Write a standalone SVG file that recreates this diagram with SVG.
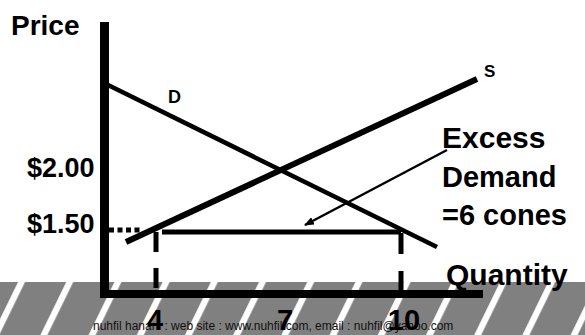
<svg xmlns="http://www.w3.org/2000/svg" width="585" height="335" viewBox="0 0 585 335">
<style>
.b{font-family:"Liberation Sans",Arial,sans-serif;font-weight:bold;fill:#000}
.ln{stroke:#000;fill:none}
</style>
<defs>
<pattern id="stripes" patternUnits="userSpaceOnUse" width="48.2" height="60" patternTransform="skewX(-26)">
<rect x="0" y="0" width="48.2" height="60" fill="#808080"/>
<rect x="11" y="0" width="7" height="60" fill="#fff"/>
</pattern>
<marker id="ah" markerWidth="10" markerHeight="8" refX="9" refY="4" orient="auto" markerUnits="userSpaceOnUse">
<path d="M0,0 L10,4 L0,8 Z" fill="#000"/>
</marker>
</defs>
<rect width="585" height="335" fill="#fff"/>
<rect id="band" x="0" y="282" width="585" height="53" fill="url(#stripes)"/>
<text x="93" y="330" font-family="Liberation Sans,Arial,sans-serif" font-size="12" fill="#111">nuhfil hanani : web site : www.nuhfil.com, email : nuhfil@yahoo.com</text>
<g id="axes">
<rect x="100" y="22" width="9" height="276" fill="#000"/>
<rect x="100" y="290" width="383" height="8" fill="#000"/>
</g>
<g id="connectors">
<line class="ln" x1="109" y1="230" x2="142" y2="230" stroke-width="5" stroke-dasharray="5 3.5"/>
<line class="ln" x1="162" y1="232" x2="401" y2="232" stroke-width="5"/>
<line class="ln" x1="156" y1="232" x2="156" y2="290" stroke-width="5" stroke-dasharray="20 16"/>
<line class="ln" x1="401" y1="233" x2="401" y2="290" stroke-width="5" stroke-dasharray="21 17"/>
<line id="demand" class="ln" x1="108" y1="85" x2="437" y2="247" stroke-width="4.5"/>
<line id="supply" class="ln" x1="126" y1="242" x2="477" y2="79" stroke-width="6"/>
<line class="ln" x1="447" y1="150" x2="305" y2="225" stroke-width="2.5" marker-end="url(#ah)"/>
</g>
<g id="labels">
<text class="b" x="11" y="35" font-size="28">Price</text>
<text class="b" x="168" y="103" font-size="18">D</text>
<text class="b" x="484" y="77" font-size="17">S</text>
<text class="b" x="442" y="148" font-size="30">Excess</text>
<text class="b" x="442" y="187" font-size="29">Demand</text>
<text class="b" x="442" y="225" font-size="29">=6 cones</text>
<text class="b" x="27" y="177" font-size="27">$2.00</text>
<text class="b" x="27" y="233" font-size="27">$1.50</text>
<text class="b" x="446" y="285" font-size="30">Quantity</text>
<text class="b" x="155" y="330" font-size="29" text-anchor="middle">4</text>
<text class="b" x="285" y="330" font-size="29" text-anchor="middle">7</text>
<text class="b" x="404" y="330" font-size="29" text-anchor="middle">10</text>
</g>
</svg>
